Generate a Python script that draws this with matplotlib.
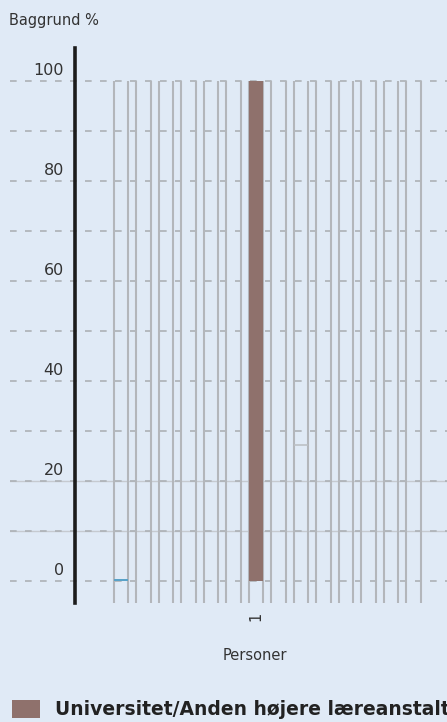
import matplotlib
matplotlib.use("Agg")
import matplotlib.pyplot as plt
import matplotlib.transforms as mtransforms
import numpy as np

# ---- data ----
positions = list(range(14))
tick_labels = ["", "", "", "", "", "", "1", "", "", "", "", "", "", ""]
uni_values = [0, 0, 0, 0, 0, 0, 100, 0, 0, 0, 0, 0, 0, 0]
blue_values = [0.35, 0, 0, 0, 0, 0, 0, 0, 0, 0, 0, 0, 0, 0]
grey_marks = [np.nan] * 8 + [27.2] + [np.nan] * 5
frame_top = 100
y_ticks = [0, 20, 40, 60, 80, 100]
grid_levels = [0, 10, 20, 30, 40, 50, 60, 70, 80, 90, 100]
series_label = "Universitet/Anden højere læreanstalt"
y_title = "Baggrund %"
x_title = "Personer"

BG = "#e0eaf6"
BROWN = "#8f716c"
BLUE = "#5aa2c8"
VGREY = "#b3b6bb"
GRID = "#adb1b6"
TXT = "#333333"

W, H = 447, 722
fig = plt.figure(figsize=(W / 100, H / 100), dpi=100, facecolor=BG)
ax = fig.add_axes([10 / W, (H - 603) / H, 437 / W, (603 - 48) / H])
ax.set_facecolor(BG)

bw = 0.64
ax.set_xlim(-4.93, 14.49)
ax.set_ylim(-4.4, 106.6)

# grid lines
for g in grid_levels:
    if g in (10, 20):
        ax.axhline(g, color="#c6cad0", lw=1.0, zorder=0.5)
    ax.axhline(g, color=GRID, lw=1.2, ls=(0, (4, 5)), zorder=1)

# vertical frame lines per category
ymin = ax.get_ylim()[0]
for p in positions:
    ax.vlines([p - bw / 2, p + bw / 2], ymin, frame_top, color=VGREY, lw=1.5, zorder=2)

# bars
ax.bar(positions, uni_values, width=bw, color=BROWN, zorder=3, label=series_label)
ax.bar(positions, blue_values, width=bw, color=BLUE, zorder=3)
for p, v in zip(positions, grey_marks):
    if not np.isnan(v):
        ax.hlines(v, p - bw / 2, p + bw / 2, color="#bcc0c5", lw=1.2, zorder=3)

# spines
for s in ("top", "right", "bottom"):
    ax.spines[s].set_visible(False)
ax.spines["left"].set_position(("data", -2.04))
ax.spines["left"].set_linewidth(2.6)
ax.spines["left"].set_color("#1c1c1c")
ax.spines["left"].set_zorder(4)

ax.set_yticks(y_ticks)
ax.set_yticklabels([str(v) for v in y_ticks])
ax.tick_params(axis="y", length=0, pad=8, labelsize=11.5, labelcolor=TXT)
off = mtransforms.ScaledTranslation(0, 12 / 100, fig.dpi_scale_trans)
for lab in ax.get_yticklabels():
    lab.set_transform(lab.get_transform() + off)

ax.set_xticks(positions)
ax.set_xticklabels(tick_labels, rotation=90)
ax.tick_params(axis="x", length=0, pad=6, labelsize=10.5, labelcolor=TXT)

ax.set_xlabel(x_title, fontsize=10.5, color=TXT)
ax.xaxis.set_label_coords((255 - 10) / 437, -(648 - 603) / (603 - 48))

fig.text(9 / W, 1 - 21 / H, y_title, fontsize=10.5, color=TXT, va="center", ha="left")

handles, labels = ax.get_legend_handles_labels()
leg = fig.legend(handles, labels, loc="lower left", bbox_to_anchor=(12 / W, 3 / H),
                 frameon=False, fontsize=13.5, handlelength=1.5, handleheight=1.12,
                 handletextpad=0.8, borderpad=0, borderaxespad=0)
for t in leg.get_texts():
    t.set_fontweight("bold")
    t.set_color("#222222")

fig.savefig("out.png", dpi=100, facecolor=BG)
